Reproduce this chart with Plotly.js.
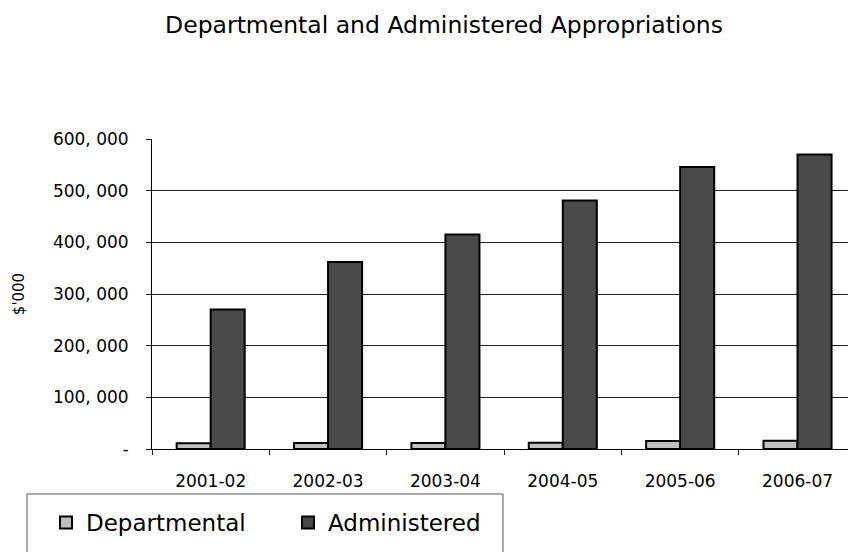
<!DOCTYPE html>
<html>
<head>
<meta charset="utf-8">
<script src="https://cdn.plot.ly/plotly-3.0.1.min.js"></script>
<style>html,body{margin:0;padding:0;background:#fff;}#chart{width:848px;height:552px;}</style>
</head>
<body>
<div id="chart"></div>
<script>
const categories = ['2001-02', '2002-03', '2003-04', '2004-05', '2005-06', '2006-07'];
const departmental = [11000, 11500, 11800, 12000, 15500, 16000];
const administered = [270000, 362000, 415000, 481000, 546000, 570000];
const yTickVals = [0, 100000, 200000, 300000, 400000, 500000, 600000];
const yTickText = ['-', '100, 000', '200, 000', '300, 000', '400, 000', '500, 000', '600, 000'];

const FONT = 'DejaVu Sans, Verdana, sans-serif';

const traces = [
  {
    type: 'bar', name: 'Departmental', x: categories, y: departmental,
    marker: {color: '#c0c0c0', line: {color: '#000', width: 2}}
  },
  {
    type: 'bar', name: 'Administered', x: categories, y: administered,
    marker: {color: '#4a4a4a', line: {color: '#000', width: 2}}
  }
];

const layout = {
  width: 848, height: 552,
  margin: {l: 152, r: 0, t: 139, b: 103, pad: 0},
  paper_bgcolor: '#fff', plot_bgcolor: '#fff',
  font: {family: FONT, color: '#000', size: 17},
  title: {
    text: 'Departmental and Administered Appropriations',
    font: {family: FONT, size: 23.5, color: '#000'},
    x: 0.5236, xref: 'container', xanchor: 'center',
    y: 0.955, yref: 'container', yanchor: 'middle'
  },
  barmode: 'group', bargap: 0.42, bargroupgap: 0,
  showlegend: true,
  legend: {
    orientation: 'h', x: -0.1523, xanchor: 'left', y: -0.1677, yanchor: 'top',
    borderwidth: 0, bgcolor: 'rgba(0,0,0,0)',
    font: {family: FONT, size: 23, color: '#000'},
    entrywidth: 197, traceorder: 'normal'
  },
  shapes: [
    {type: 'rect', xref: 'paper', yref: 'paper', x0: -0.1796, x1: 0.5043, y0: -0.1452, y1: -0.45,
     line: {color: '#555', width: 1}, fillcolor: 'rgba(0,0,0,0)', layer: 'below'}
  ],
  xaxis: {
    type: 'category', range: [-0.5, 5.43],
    showline: true, linecolor: '#000', linewidth: 1,
    ticks: 'outside', tickson: 'boundaries', ticklen: 5, tickcolor: '#000',
    showgrid: false, zeroline: false,
    ticklabelstandoff: 17,
    tickfont: {family: FONT, size: 17, color: '#000'}
  },
  yaxis: {
    range: [0, 600000],
    tickvals: yTickVals, ticktext: yTickText,
    showline: true, linecolor: '#000', linewidth: 1,
    ticks: 'outside', ticklen: 5, tickcolor: '#000',
    showgrid: true, gridcolor: '#222', gridwidth: 1,
    zeroline: false,
    ticklabelstandoff: 14,
    tickfont: {family: FONT, size: 17, color: '#000'},
    title: {text: "$'000", font: {family: FONT, size: 15, color: '#000'}, standoff: 24}
  }
};

Plotly.newPlot('chart', traces, layout, {displayModeBar: false, staticPlot: true});
</script>
</body>
</html>
